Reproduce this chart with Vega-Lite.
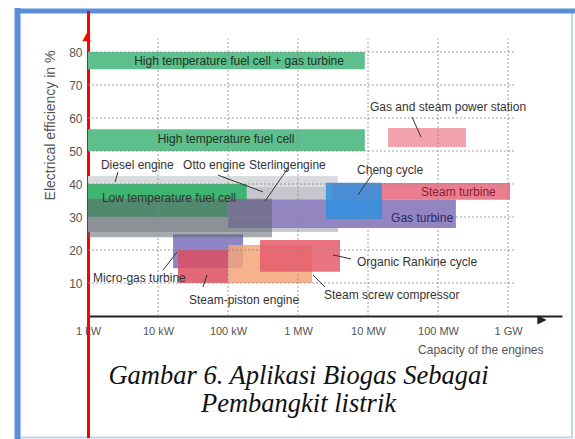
{
  "$schema": "https://vega.github.io/schema/vega-lite/v6.json",
  "width": 555,
  "height": 427,
  "autosize": {"type": "none"},
  "padding": {"left": 17, "top": 10.5, "right": 3, "bottom": 1.5},
  "background": "white",
  "config": {
    "font": "Liberation Sans",
    "view": {"stroke": "#bfd5f0", "strokeWidth": 2}
  },
  "title": {
    "text": ["Gambar 6. Aplikasi Biogas Sebagai", "Pembangkit listrik"],
    "orient": "bottom",
    "frame": "group",
    "anchor": "middle",
    "offset": -75,
    "dx": 4,
    "font": "Liberation Serif",
    "fontStyle": "italic",
    "fontWeight": "normal",
    "fontSize": 26.5,
    "lineHeight": 28,
    "color": "#111",
    "baseline": "top"
  },
  "datasets": {
    "rects": [
      {"name": "High temperature fuel cell + gas turbine", "x1": 1, "x2": 9000, "y1": 74.8, "y2": 80},
      {"name": "High temperature fuel cell", "x1": 1, "x2": 9000, "y1": 50, "y2": 56.6},
      {"name": "Gas and steam power station", "x1": 19300, "x2": 251000, "y1": 51.2, "y2": 57},
      {"name": "Diesel engine", "x1": 1, "x2": 3700, "y1": 25.5, "y2": 42.4},
      {"name": "Otto engine", "x1": 1, "x2": 3700, "y1": 25.5, "y2": 39.1},
      {"name": "Low temperature fuel cell", "x1": 1, "x2": 185, "y1": 30, "y2": 40},
      {"name": "Gas turbine", "x1": 100, "x2": 180000, "y1": 26.7, "y2": 35.3},
      {"name": "Steam turbine", "x1": 3000, "x2": 1070000, "y1": 35.2, "y2": 40.3},
      {"name": "Micro-gas turbine", "x1": 16.4, "x2": 164, "y1": 14.5, "y2": 24.8},
      {"name": "Sterling engine", "x1": 1, "x2": 425, "y1": 23.9, "y2": 35.5},
      {"name": "Cheng cycle", "x1": 2500, "x2": 15800, "y1": 29.3, "y2": 40.4},
      {"name": "Steam-piston engine", "x1": 19.3, "x2": 100, "y1": 10, "y2": 20},
      {"name": "Steam screw compressor", "x1": 100, "x2": 1585, "y1": 10, "y2": 21.5},
      {"name": "Organic Rankine cycle", "x1": 286, "x2": 3980, "y1": 13.4, "y2": 23}
    ],
    "labels": [
      {"label": "High temperature fuel cell + gas turbine", "x": 143.6, "y": 77.3, "kind": "bar"},
      {"label": "High temperature fuel cell", "x": 93.6, "y": 53.6, "kind": "bar"},
      {"label": "Gas and steam power station", "x": 10680, "y": 63.3, "kind": "note"},
      {"label": "Diesel engine", "x": 1.53, "y": 45.8, "kind": "note"},
      {"label": "Otto engine", "x": 22.8, "y": 45.8, "kind": "note"},
      {"label": "Sterlingengine", "x": 199.5, "y": 45.8, "kind": "note"},
      {"label": "Low temperature fuel cell", "x": 1.58, "y": 35.8, "kind": "note"},
      {"label": "Cheng cycle", "x": 6966, "y": 44.2, "kind": "note"},
      {"label": "Organic Rankine cycle", "x": 6966, "y": 16.4, "kind": "note"},
      {"label": "Steam screw compressor", "x": 2352, "y": 6.4, "kind": "note"},
      {"label": "Micro-gas turbine", "x": 1.18, "y": 11.5, "kind": "note"},
      {"label": "Steam-piston engine", "x": 27.7, "y": 4.8, "kind": "note"},
      {"label": "Steam turbine", "x": 57150, "y": 37.6, "kind": "steam"},
      {"label": "Gas turbine", "x": 21320, "y": 29.7, "kind": "gas"}
    ],
    "lines": [
      {"x1": 42550, "y1": 60.3, "x2": 57150, "y2": 54.2},
      {"x1": 2.68, "y1": 43.6, "x2": 2.43, "y2": 40.6},
      {"x1": 71.9, "y1": 42.7, "x2": 316, "y2": 37.6},
      {"x1": 719, "y1": 44.8, "x2": 338, "y2": 34.8},
      {"x1": 11790, "y1": 43.3, "x2": 7197, "y2": 36.7},
      {"x1": 3162, "y1": 18.5, "x2": 5720, "y2": 17.3},
      {"x1": 1638, "y1": 12.4, "x2": 2431, "y2": 8.8},
      {"x1": 11.8, "y1": 13.9, "x2": 18.7, "y2": 19.4},
      {"x1": 43.9, "y1": 8.8, "x2": 50.1, "y2": 12.4}
    ]
  },
  "resolve": {"axis": {"x": "independent", "y": "independent"}},
  "layer": [
    {
      "data": {"name": "rects"},
      "transform": [{"filter": {"field": "name", "oneOf": ["High temperature fuel cell + gas turbine", "High temperature fuel cell", "Gas and steam power station", "Diesel engine", "Otto engine", "Low temperature fuel cell", "Gas turbine", "Steam turbine", "Micro-gas turbine"]}}],
      "mark": {"type": "rect"},
      "encoding": {
        "x": {"field": "x1", "type": "quantitative", "scale": {"type": "log", "domain": [0.0967, 8200000], "nice": false},
              "axis": {"orient": "top", "offset": 0, "domainColor": "#5a8fd6", "domainWidth": 5, "domainCap": "square", "labels": false, "ticks": false, "grid": false, "title": null}},
        "x2": {"field": "x2"},
        "y": {"field": "y1", "type": "quantitative", "scale": {"domain": [-36.82, 92.58], "nice": false, "zero": false},
              "axis": {"orient": "left", "offset": 0, "domainColor": "#5a8fd6", "domainWidth": 6, "domainCap": "square", "labels": false, "ticks": false, "grid": false, "title": null}},
        "y2": {"field": "y2"},
        "color": {"field": "name", "type": "nominal", "legend": null,
          "scale": {"domain": ["High temperature fuel cell + gas turbine", "High temperature fuel cell", "Gas and steam power station", "Diesel engine", "Otto engine", "Low temperature fuel cell", "Gas turbine", "Steam turbine", "Micro-gas turbine", "Sterling engine", "Cheng cycle", "Steam-piston engine", "Steam screw compressor", "Organic Rankine cycle"],
                    "range": ["#5cbf8c", "#5cbf8c", "#f2a3ad", "#d9dbde", "#c4c7cc", "#3fb572", "#9385c2", "#ea7d8e", "#8f84c6", "#5f646c", "#2f8fe0", "#dd4f60", "#f3a679", "#e65a6c"]}}
      }
    },
    {
      "data": {"name": "rects"},
      "transform": [{"filter": {"field": "name", "oneOf": ["Sterling engine"]}}],
      "mark": {"type": "rect", "opacity": 0.55},
      "encoding": {
        "x": {"field": "x1", "type": "quantitative", "scale": {"type": "log", "domain": [0.0967, 8200000], "nice": false}, "axis": null},
        "x2": {"field": "x2"},
        "y": {"field": "y1", "type": "quantitative", "scale": {"domain": [-36.82, 92.58], "nice": false, "zero": false}, "axis": null},
        "y2": {"field": "y2"},
        "color": {"field": "name", "type": "nominal", "legend": null,
          "scale": {"domain": ["High temperature fuel cell + gas turbine", "High temperature fuel cell", "Gas and steam power station", "Diesel engine", "Otto engine", "Low temperature fuel cell", "Gas turbine", "Steam turbine", "Micro-gas turbine", "Sterling engine", "Cheng cycle", "Steam-piston engine", "Steam screw compressor", "Organic Rankine cycle"],
                    "range": ["#5cbf8c", "#5cbf8c", "#f2a3ad", "#d9dbde", "#c4c7cc", "#3fb572", "#9385c2", "#ea7d8e", "#8f84c6", "#5f646c", "#2f8fe0", "#dd4f60", "#f3a679", "#e65a6c"]}}
      }
    },
    {
      "data": {"name": "rects"},
      "transform": [{"filter": {"field": "name", "oneOf": ["Cheng cycle", "Steam-piston engine", "Steam screw compressor", "Organic Rankine cycle"]}}],
      "mark": {"type": "rect", "opacity": 0.85},
      "encoding": {
        "x": {"field": "x1", "type": "quantitative", "scale": {"type": "log", "domain": [0.0967, 8200000], "nice": false}, "axis": null},
        "x2": {"field": "x2"},
        "y": {"field": "y1", "type": "quantitative", "scale": {"domain": [-36.82, 92.58], "nice": false, "zero": false}, "axis": null},
        "y2": {"field": "y2"},
        "color": {"field": "name", "type": "nominal", "legend": null,
          "scale": {"domain": ["High temperature fuel cell + gas turbine", "High temperature fuel cell", "Gas and steam power station", "Diesel engine", "Otto engine", "Low temperature fuel cell", "Gas turbine", "Steam turbine", "Micro-gas turbine", "Sterling engine", "Cheng cycle", "Steam-piston engine", "Steam screw compressor", "Organic Rankine cycle"],
                    "range": ["#5cbf8c", "#5cbf8c", "#f2a3ad", "#d9dbde", "#c4c7cc", "#3fb572", "#9385c2", "#ea7d8e", "#8f84c6", "#5f646c", "#2f8fe0", "#dd4f60", "#f3a679", "#e65a6c"]}}
      }
    },
    {
      "data": {"values": [{"cap": 10}, {"cap": 100}, {"cap": 1000}, {"cap": 10000}, {"cap": 100000}, {"cap": 1000000}]},
      "mark": {"type": "rule", "color": "#8a8a8a", "strokeDash": [2, 2], "strokeWidth": 1, "opacity": 0.8},
      "encoding": {
        "x": {"field": "cap", "type": "quantitative", "scale": {"type": "log", "domain": [0.0967, 8200000], "nice": false},
              "axis": {"orient": "bottom", "offset": -121.5, "values": [1, 10, 100, 1000, 10000, 100000, 1000000, 3000000],
                       "labelExpr": "datum.value == 1 ? '1 kW' : datum.value == 10 ? '10 kW' : datum.value == 100 ? '100 kW' : datum.value == 1000 ? '1 MW' : datum.value == 10000 ? '10 MW' : datum.value == 100000 ? '100 MW' : datum.value == 1000000 ? '1 GW' : '▶'",
                       "domain": true, "domainColor": "#222", "domainWidth": 2, "domainDash": [474, 81], "domainDashOffset": 484,
                       "ticks": false, "tickSize": 0, "grid": false, "labelPadding": 9,
                       "labelFontSize": {"condition": {"test": "datum.value > 2000000", "value": 12}, "value": 11},
                       "labelColor": {"condition": {"test": "datum.value > 2000000", "value": "#222"}, "value": "#555"},
                       "labelFont": {"condition": {"test": "datum.value > 2000000", "value": "DejaVu Sans"}, "value": "Liberation Sans"},
                       "labelBaseline": {"condition": {"test": "datum.value > 2000000", "value": "bottom"}, "value": "top"},
                       "labelFlush": false, "labelOverlap": false,
                       "title": "Capacity of the engines", "titleFontSize": 12, "titleFontWeight": "normal", "titleColor": "#555", "titleFont": "Liberation Sans", "titleX": 526, "titleY": 28, "titleAlign": "right", "titleBaseline": "top"}},
        "y": {"datum": 0, "type": "quantitative", "scale": {"domain": [-36.82, 92.58], "nice": false, "zero": false}, "axis": null},
        "y2": {"datum": 84}
      }
    },
    {
      "data": {"values": [{"eff": 10}, {"eff": 20}, {"eff": 30}, {"eff": 40}, {"eff": 50}, {"eff": 60}, {"eff": 70}, {"eff": 80}]},
      "mark": {"type": "rule", "color": "#8a8a8a", "strokeDash": [2, 2], "strokeWidth": 1, "opacity": 0.8},
      "encoding": {
        "y": {"field": "eff", "type": "quantitative", "scale": {"domain": [-36.82, 92.58], "nice": false, "zero": false},
              "axis": {"orient": "left", "offset": -71, "values": [10, 20, 30, 40, 50, 60, 70, 80, 84.8],
                       "labelExpr": "datum.value > 84 ? '▲' : datum.label",
                       "domain": true, "domainColor": "#ff0000", "domainWidth": 3,
                       "ticks": false, "tickSize": 0, "grid": false,
                       "labelPadding": 6,
                       "labelFontSize": {"condition": {"test": "datum.value > 84", "value": 11}, "value": 12},
                       "labelColor": {"condition": {"test": "datum.value > 84", "value": "#ff0000"}, "value": "#555"},
                       "labelFont": {"condition": {"test": "datum.value > 84", "value": "DejaVu Sans"}, "value": "Liberation Sans"},
                       "labelAlign": {"condition": {"test": "datum.value > 84", "value": "left"}, "value": "right"},
                       "labelOverlap": false,
                       "title": "Electrical efficiency in %", "titleFontSize": 14, "titleFontWeight": "normal", "titleColor": "#555", "titleFont": "Liberation Sans",
                       "titleX": -38, "titleY": 114.5, "titleAngle": -90, "titleAlign": "center", "titleBaseline": "middle"}},
        "x": {"datum": 1, "type": "quantitative", "scale": {"type": "log", "domain": [0.0967, 8200000], "nice": false}, "axis": null},
        "x2": {"datum": 1260000}
      }
    },
    {
      "data": {"name": "lines"},
      "mark": {"type": "rule", "color": "#333", "strokeWidth": 1},
      "encoding": {
        "x": {"field": "x1", "type": "quantitative", "scale": {"type": "log", "domain": [0.0967, 8200000], "nice": false}, "axis": null},
        "x2": {"field": "x2"},
        "y": {"field": "y1", "type": "quantitative", "scale": {"domain": [-36.82, 92.58], "nice": false, "zero": false}, "axis": null},
        "y2": {"field": "y2"}
      }
    },
    {
      "data": {"name": "labels"},
      "transform": [{"filter": "datum.kind == 'bar'"}],
      "mark": {"type": "text", "align": "center", "baseline": "middle", "fontSize": 12, "color": "#1c3324", "font": "Liberation Sans"},
      "encoding": {
        "x": {"field": "x", "type": "quantitative", "scale": {"type": "log", "domain": [0.0967, 8200000], "nice": false}, "axis": null},
        "y": {"field": "y", "type": "quantitative", "scale": {"domain": [-36.82, 92.58], "nice": false, "zero": false}, "axis": null},
        "text": {"field": "label"}
      }
    },
    {
      "data": {"name": "labels"},
      "transform": [{"filter": "datum.kind == 'note'"}],
      "mark": {"type": "text", "align": "left", "baseline": "middle", "fontSize": 12, "color": "#333", "font": "Liberation Sans"},
      "encoding": {
        "x": {"field": "x", "type": "quantitative", "scale": {"type": "log", "domain": [0.0967, 8200000], "nice": false}, "axis": null},
        "y": {"field": "y", "type": "quantitative", "scale": {"domain": [-36.82, 92.58], "nice": false, "zero": false}, "axis": null},
        "text": {"field": "label"}
      }
    },
    {
      "data": {"name": "labels"},
      "transform": [{"filter": "datum.kind == 'steam'"}],
      "mark": {"type": "text", "align": "left", "baseline": "middle", "fontSize": 12, "color": "#8b1d2f", "font": "Liberation Sans"},
      "encoding": {
        "x": {"field": "x", "type": "quantitative", "scale": {"type": "log", "domain": [0.0967, 8200000], "nice": false}, "axis": null},
        "y": {"field": "y", "type": "quantitative", "scale": {"domain": [-36.82, 92.58], "nice": false, "zero": false}, "axis": null},
        "text": {"field": "label"}
      }
    },
    {
      "data": {"name": "labels"},
      "transform": [{"filter": "datum.kind == 'gas'"}],
      "mark": {"type": "text", "align": "left", "baseline": "middle", "fontSize": 12, "color": "#2d2868", "font": "Liberation Sans"},
      "encoding": {
        "x": {"field": "x", "type": "quantitative", "scale": {"type": "log", "domain": [0.0967, 8200000], "nice": false}, "axis": null},
        "y": {"field": "y", "type": "quantitative", "scale": {"domain": [-36.82, 92.58], "nice": false, "zero": false}, "axis": null},
        "text": {"field": "label"}
      }
    }
  ]
}
